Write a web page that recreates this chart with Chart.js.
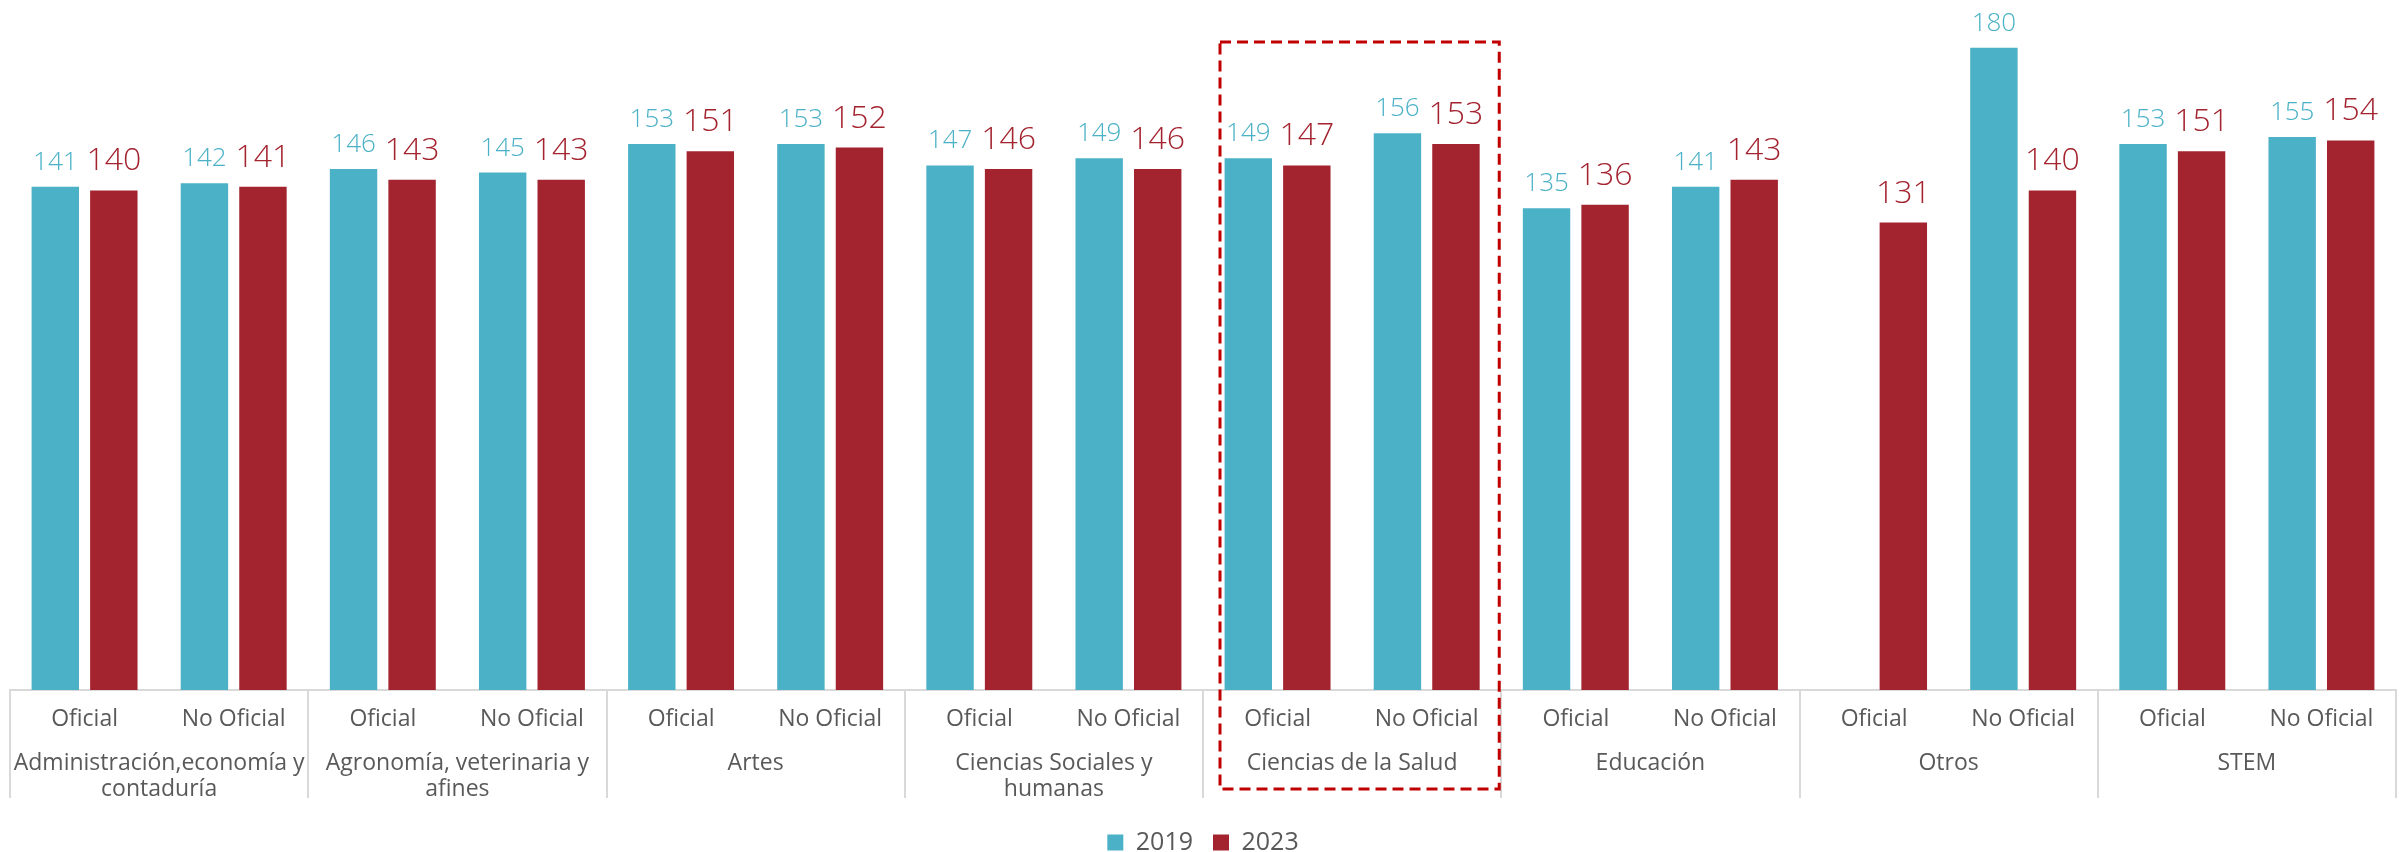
<!DOCTYPE html>
<html>
<head>
<meta charset="utf-8">
<script src="https://cdn.jsdelivr.net/npm/chart.js@4.4.0/dist/chart.umd.min.js"></script>
<style>
    body { margin: 0; background: #fff; }
    #wrap { width: 2407px; height: 852px; }
</style>
</head>
<body>
<div id="wrap"><canvas id="myChart"></canvas></div>
<script>
const subLabels = ["Oficial", "No Oficial", "Oficial", "No Oficial", "Oficial", "No Oficial", "Oficial", "No Oficial",
    "Oficial", "No Oficial", "Oficial", "No Oficial", "Oficial", "No Oficial", "Oficial", "No Oficial"];
const groupNames = [
    ["Administración,economía y", "contaduría"],
    ["Agronomía, veterinaria y", "afines"],
    ["Artes"],
    ["Ciencias Sociales y", "humanas"],
    ["Ciencias de la Salud"],
    ["Educación"],
    ["Otros"],
    ["STEM"]
];
const values2019 = [141, 142, 146, 145, 153, 153, 147, 149, 149, 156, 135, 141, null, 180, 153, 155];
const values2023 = [140, 141, 143, 143, 151, 152, 146, 146, 147, 153, 136, 143, 131, 140, 151, 154];
const seriesNames = ["2019", "2023"];
const highlightGroup = 4;

const teal = "#4AB1C6";
const red = "#A3232F";
const gray = "#595959";
const lineGray = "#D9D9D9";
const fontName = "'Open Sans', 'Noto Sans', sans-serif";

// value labels above the bars
const valueLabels = {
    id: 'valueLabels',
    afterDatasetsDraw(chart) {
        const ctx = chart.ctx;
        ctx.save();
        ctx.textAlign = 'center';
        ctx.textBaseline = 'alphabetic';
        chart.data.datasets.forEach(function (ds, di) {
            const meta = chart.getDatasetMeta(di);
            if (di === 0) {
                ctx.font = "300 26px " + fontName;
                ctx.fillStyle = teal;
            } else {
                ctx.font = "300 32px " + fontName;
                ctx.fillStyle = red;
            }
            const off = di === 0 ? 17 : 20;
            meta.data.forEach(function (bar, i) {
                const v = ds.data[i];
                if (v === null) return;
                ctx.fillText(String(v), bar.x, bar.y - off);
            });
        });
        ctx.restore();
    }
};

// group labels, separators and the dashed highlight box
const groupAxis = {
    id: 'groupAxis',
    afterDraw(chart) {
        const ctx = chart.ctx;
        const x = chart.scales.x;
        const catW = x.width / subLabels.length;
        ctx.save();
        ctx.strokeStyle = lineGray;
        ctx.lineWidth = 2;
        for (let g = 0; g <= groupNames.length; g++) {
            const px = Math.round(x.left + g * 2 * catW);
            ctx.beginPath();
            ctx.moveTo(px, x.top);
            ctx.lineTo(px, x.top + 108);
            ctx.stroke();
        }
        ctx.fillStyle = gray;
        ctx.font = "23px " + fontName;
        ctx.textAlign = 'center';
        ctx.textBaseline = 'middle';
        groupNames.forEach(function (lines, g) {
            const cx = x.left + (g * 2 + 1) * catW;
            lines.forEach(function (t, k) {
                ctx.fillText(t, cx, x.top + 73 + k * 26);
            });
        });
        // dashed box
        const left = x.left + highlightGroup * 2 * catW + 17;
        const right = x.left + (highlightGroup * 2 + 2) * catW - 2;
        const top = chart.chartArea.top + 30;
        const bottom = x.top + 99;
        ctx.strokeStyle = "#C00000";
        ctx.lineWidth = 3;
        ctx.setLineDash([11, 6]);
        ctx.strokeRect(left, top, right - left, bottom - top);
        ctx.restore();
    }
};

const ctx = document.getElementById('myChart').getContext('2d');
const myChart = new Chart(ctx, {
    type: 'bar',
    data: {
        labels: subLabels,
        datasets: [{
            label: seriesNames[0],
            data: values2019,
            backgroundColor: teal,
            borderWidth: 0
        }, {
            label: seriesNames[1],
            data: values2023,
            backgroundColor: red,
            borderWidth: 0
        }]
    },
    options: {
        responsive: true,
        maintainAspectRatio: false,
        animation: false,
        categoryPercentage: 0.785,
        barPercentage: 0.81,
        layout: {
            padding: { top: 12, left: 10, right: 11, bottom: -13 }
        },
        plugins: {
            legend: {
                position: 'bottom',
                labels: {
                    boxWidth: 16,
                    boxHeight: 16,
                    padding: 20,
                    color: gray,
                    font: { family: fontName, size: 25 }
                }
            },
            tooltip: { enabled: false }
        },
        scales: {
            x: {
                grid: { display: false, drawTicks: false },
                border: { display: true, color: lineGray, width: 2 },
                ticks: {
                    color: gray,
                    padding: 16,
                    autoSkip: false,
                    maxRotation: 0,
                    font: { family: fontName, size: 23 }
                },
                afterFit: function (scale) {
                    scale.height = 120;
                }
            },
            y: {
                display: false,
                min: 0,
                max: 190
            }
        }
    },
    plugins: [valueLabels, groupAxis]
});
</script>
</body>
</html>
